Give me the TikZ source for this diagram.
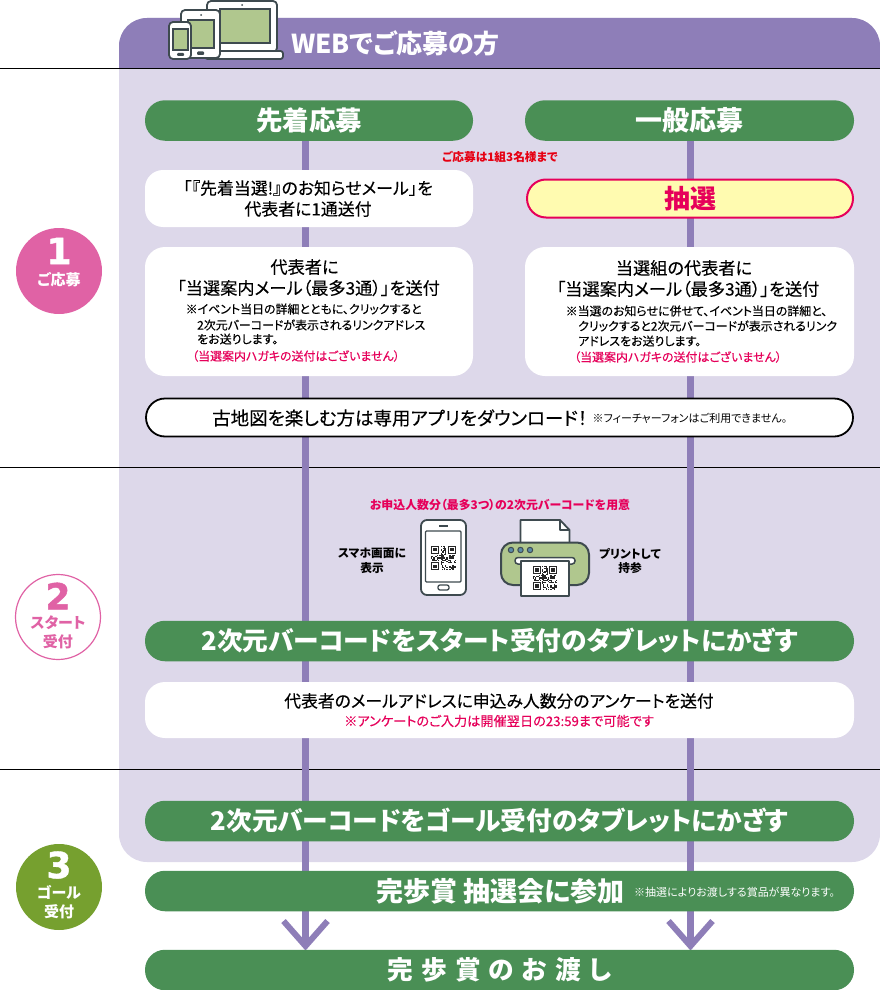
\documentclass[tikz,border=0pt]{standalone}
\usepackage{fontspec}
\setmainfont{Noto Sans CJK JP}[RawFeature={+palt}]
\newfontfamily\jpm[FakeBold=0.25,RawFeature={+palt}]{Noto Sans CJK JP}
\newfontfamily\numf[FakeBold=1.2]{DejaVu Sans}
\definecolor{gr}{HTML}{4A8F55}
\definecolor{pu}{HTML}{8E7EB8}
\definecolor{pa}{HTML}{DDD8EA}
\definecolor{rd}{HTML}{E6005A}
\definecolor{rr}{HTML}{E60012}
\definecolor{pk}{HTML}{E062A5}
\definecolor{ol}{HTML}{76A02F}
\definecolor{dk}{HTML}{3E4A4F}
\definecolor{sc}{HTML}{B0C78E}
\definecolor{yl}{HTML}{FFFBB0}
\definecolor{bd}{HTML}{5B8BA8}
\newcommand{\fs}[1]{\fontsize{#1}{#1}\selectfont}
\tikzset{
  pill/.style={fill=gr,text=white,rounded corners=20pt,minimum height=40.5pt,inner sep=0pt,font=\bfseries\fs{25.7}},
  card/.style={fill=white,rounded corners=20pt,inner sep=0pt},
  txt/.style={inner sep=0pt,text=black},
  medium/.style={txt,font=\jpm\fs{17.2}},
  note/.style={txt,anchor=west,font=\jpm\fs{11.95}},
  redn/.style={note,text=rd},
  flow/.style={pu,line width=7pt},
  chevron/.style={pu,line width=6pt,miter limit=10},
  rule/.style={black,line width=.8pt},
  dev/.style={draw=dk,line width=1.8pt,fill=white,line join=round},
  scr/.style={draw=dk,line width=1.5pt,fill=sc},
  qr/.pic={
    \fill[white] (0,0) rectangle (21,21);
    \pgfmathsetseed{11}
    \foreach \i in {0,...,20}{\foreach \j in {0,...,20}{
      \pgfmathparse{rnd>0.52?1:0}
      \ifnum\pgfmathresult=1 \fill[black!85] (\i,\j) rectangle ++(1,1);\fi}}
    \foreach \a/\b in {0/0,14/0,0/14}{
      \fill[white] (\a-1,\b-1) rectangle ++(9,9);
      \fill[black!85] (\a,\b) rectangle ++(7,7);
      \fill[white] (\a+1,\b+1) rectangle ++(5,5);
      \fill[black!85] (\a+2,\b+2) rectangle ++(3,3);}
  }
}
\begin{document}
\begin{tikzpicture}[x=1pt,y=-1pt]
\useasboundingbox (0,0) rectangle (880,990);
% panel
\fill[pa,rounded corners=28pt] (119,18) rectangle (880,862);
\begin{scope}
\clip (0,0) rectangle (880,68);
\fill[pu,rounded corners=28pt] (119,18) rectangle (880,862);
\end{scope}
\draw[rule] (0,68.5) -- (880,68.5);
\draw[rule] (0,467.5) -- (880,467.5);
\draw[rule] (0,769.5) -- (880,769.5);
% flow lines
\coordinate (ltop) at (305.5,135);
\coordinate (rtop) at (690.5,135);
\coordinate (lend) at (305.5,946);
\coordinate (rend) at (690.5,946);
\coordinate (qa) at (431,545.5);
\coordinate (qb) at (533,566);
\draw[flow] (ltop) -- (lend);
\draw[flow] (rtop) -- (rend);
\draw[chevron] (283.5,921) -- (lend) -- (327.5,921);
\draw[chevron] (668.5,921) -- (rend) -- (712.5,921);
% devices
\draw[dev,rounded corners=4pt] (207,1) -- (277,1) -- (277,52) -- (207,52) -- cycle;
\draw[scr] (220,9) rectangle (270,43);
\fill[dk] (242,5) circle (1pt);
\draw[dev,rounded corners=2.5pt] (205,51) rectangle (283,59);
\draw[dev,rounded corners=4pt] (181,10) rectangle (220,58);
\draw[scr] (188,20) rectangle (214,48);
\fill[dk] (201,15) circle (1pt);
\fill[dk,rounded corners=1pt] (197,51.5) rectangle (204,55);
\draw[dev,rounded corners=4pt] (169,22) rectangle (191,59);
\draw[scr] (173,29) rectangle (188,50);
\fill[dk,rounded corners=1pt] (177,53) rectangle (184,56);
\node[txt,text=white,font=\bfseries\fs{26},anchor=west] (head) at (291,43) {WEBでご応募の方};
% top row
\node[pill,minimum width=328pt,font=\bfseries\fs{26.5}] (sen) at (309,120.5) {先着応募};
\node[pill,minimum width=329pt,font=\bfseries\fs{27}] (ipp) at (689.5,120.5) {一般応募};
\node[txt,text=rr,font=\bfseries\fs{11.7}] (lim) at (500,157) {ご応募は1組3名様まで};
\node[card,minimum width=328pt,minimum height=57pt,rounded corners=18pt] (c1) at (309,198.5) {};
\node[medium,align=center,font=\jpm\fs{16.9}] (c1t) at (308,198.5) {「『先着当選!』のお知らせメール」を\\[4pt]代表者に1通送付};
\node[draw=rd,line width=2pt,fill=yl,rounded corners=19pt,minimum width=326pt,minimum height=38pt,inner sep=0pt,text=rd,font=\bfseries\fs{26}] (cho) at (690,198.5) {抽選};
% left card
\node[card,minimum width=328pt,minimum height=129pt] (c2) at (309,311.5) {};
\node[medium] (c2a) at (304.5,267) {代表者に};
\node[medium] (c2b) at (308.5,288) {「当選案内メール（最多3通）」を送付};
\node[note] (c2c) at (185.5,309) {※イベント当日の詳細とともに、クリックすると};
\node[note] (c2d) at (197,325) {2次元バーコードが表示されるリンクアドレス};
\node[note] (c2e) at (197,339) {をお送りします。};
\node[redn] (c2f) at (192,356) {（当選案内ハガキの送付はございません）};
% right card
\node[card,minimum width=329pt,minimum height=129pt] (c3) at (689.5,311.5) {};
\node[medium] (c3a) at (684,268) {当選組の代表者に};
\node[medium] (c3b) at (688,289) {「当選案内メール（最多3通）」を送付};
\node[note] (c3c) at (565.5,311) {※当選のお知らせに併せて、イベント当日の詳細と、};
\node[note] (c3d) at (578,326) {クリックすると2次元バーコードが表示されるリンク};
\node[note] (c3e) at (578,341) {アドレスをお送りします。};
\node[redn] (c3f) at (574,357) {（当選案内ハガキの送付はございません）};
% app bar
\node[draw=black,line width=1.8pt,fill=white,rounded corners=19pt,minimum width=707pt,minimum height=38pt,inner sep=0pt] (app) at (499.5,417.5) {};
\node[txt,anchor=west,font=\jpm\fs{18.5}] (appt) at (212,418) {古地図を楽しむ方は専用アプリをダウンロード！};
\node[txt,anchor=west,font=\fs{11}] (apps) at (592.5,418) {※フィーチャーフォンはご利用できません。};
% section 2 illustration
\node[txt,text=rd,font=\bfseries\fs{11.9}] (pre) at (500,505) {お申込人数分（最多3つ）の2次元バーコードを用意};
\node[txt,align=center,font=\bfseries\fs{11.7}] (sm) at (372,561) {スマホ画面に\\[3pt]表示};
\node[txt,align=center,font=\bfseries\fs{11.7}] (pr) at (630,561) {プリントして\\[3pt]持参};
\draw[dev,rounded corners=6pt] (421,520) rectangle (466,595);
\draw[draw=dk,line width=1.3pt,rounded corners=1pt] (425.5,531) rectangle (461,582);
\draw[dk,line width=1.3pt] (439,526) -- (448,526);
\draw[draw=dk,line width=1.3pt,rounded corners=2pt] (438,585) rectangle (449,590);
\pic[x=1.19pt,y=1.19pt,yscale=-1] at (qa) {qr};
% printer
\draw[dev] (520.5,544) -- (520.5,520) -- (560,520) -- (569.5,530) -- (569.5,544);
\draw[dk,line width=1.5pt,line join=round] (560,520) -- (560,530) -- (569.5,530);
\draw[draw=dk,line width=2pt,fill=sc,rounded corners=12pt] (501,542.5) -- (589,542.5) -- (589,585) -- (501,585) -- cycle;
\fill[bd,draw=dk,line width=1pt] (511,550) circle (2.7pt) (520.5,550) circle (2.7pt) (530,550) circle (2.7pt);
\draw[draw=dk,line width=1.5pt,fill=white,rounded corners=3pt] (515,557.5) rectangle (575,564);
\draw[dev,line width=1.6pt] (521,561) rectangle (569,596);
\pic[x=1.14pt,y=1.14pt,yscale=-1] at (qb) {qr};
% bars
\node[pill,minimum width=709pt] (b1) at (499.5,641) {2次元バーコードをスタート受付のタブレットにかざす};
\node[card,minimum width=709pt,minimum height=56pt] (c4) at (499.5,710) {};
\node[medium,font=\jpm\fs{16.8}] (c4a) at (499,701) {代表者のメールアドレスに申込み人数分のアンケートを送付};
\node[txt,text=rd,font=\jpm\fs{13.2}] (c4b) at (499,721) {※アンケートのご入力は開催翌日の23:59まで可能です};
\node[pill,minimum width=709pt] (b2) at (499.5,821) {2次元バーコードをゴール受付のタブレットにかざす};
\node[pill,minimum width=709pt] (b3) at (499.5,891) {};
\node[txt,text=white,anchor=west,font=\bfseries\fs{27}] (b3a) at (376,891) {完歩賞 抽選会に参加};
\node[txt,text=white,anchor=west,font=\fs{11}] (b3b) at (634,892) {※抽選によりお渡しする賞品が異なります。};
\node[pill,minimum width=709pt] (b4) at (499.5,970) {完\hspace{8pt}歩\hspace{8pt}賞\hspace{8pt}の\hspace{8pt}お\hspace{8pt}渡\hspace{8pt}し};
% badges
\node[circle,fill=pk,minimum size=86pt,inner sep=0pt] (n1) at (59,271) {};
\node[txt,text=white,font=\numf\bfseries\fs{36}] (n1a) at (59,251) {1};
\node[txt,text=white,font=\bfseries\fs{15}] (n1b) at (59,280) {ご応募};
\node[circle,draw=pk,line width=1.2pt,fill=white,minimum size=85pt,inner sep=0pt] (n2) at (58,617) {};
\node[txt,text=pk,font=\numf\bfseries\fs{36}] (n2a) at (58,596) {2};
\node[txt,text=pk,font=\bfseries\fs{15},align=center] (n2b) at (58,632) {スタート\\[4pt]受付};
\node[circle,fill=ol,minimum size=86pt,inner sep=0pt] (n3) at (59,887) {};
\node[txt,text=white,font=\numf\bfseries\fs{36}] (n3a) at (59,865) {3};
\node[txt,text=white,font=\bfseries\fs{15},align=center] (n3b) at (59,902) {ゴール\\[4pt]受付};
\end{tikzpicture}
\end{document}
